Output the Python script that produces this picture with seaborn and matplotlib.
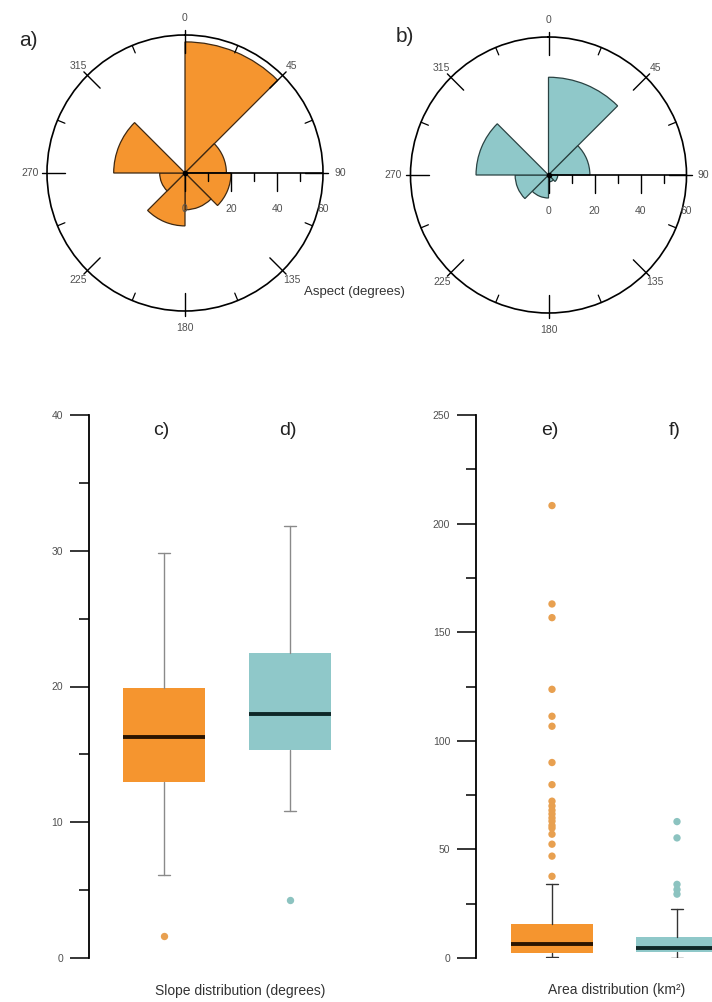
import numpy as np
import pandas as pd
import matplotlib
matplotlib.use("Agg")
import matplotlib.pyplot as plt
import seaborn as sns

# ---- aspect roses (8 sectors of 45 degrees, clockwise from north) ----
sector_start_deg = [0, 45, 90, 135, 180, 225, 270, 315]
aspect_a = [57, 18, 20, 16, 23, 11, 31, 0]
aspect_b = [42.5, 18, 4, 3, 10, 14.5, 31.5, 0]
rose_radial_ticks = [0, 20, 40, 60]
compass_deg = [0, 45, 90, 135, 180, 225, 270, 315]
compass_labels = ["0", "45", "90", "135", "180", "225", "270", "315"]

# ---- slope distribution (degrees) ----
slope_groups = ["c)", "d)"]
slope_q1 = [13.0, 15.3]
slope_median = [16.25, 17.95]
slope_q3 = [19.9, 22.45]
slope_whislo = [6.1, 10.8]
slope_whishi = [29.85, 31.85]
slope_outliers = [[1.6], [4.3]]
slope_ticks = [0, 10, 20, 30, 40]

# ---- area distribution (km2) ----
area_groups = ["e)", "f)"]
area_q1 = [2.5, 2.6]
area_median = [6.3, 4.5]
area_q3 = [15.6, 9.8]
area_whislo = [0.6, 0.0]
area_whishi = [33.9, 22.4]
area_outliers = [
    [208.3, 163.0, 156.7, 123.7, 111.3, 106.7, 90.0, 79.8, 72.2, 70.0,
     68.0, 66.3, 64.5, 63.0, 61.0, 59.8, 57.0, 52.4, 46.9, 37.6],
    [62.8, 55.3, 33.9, 31.5, 29.4],
]
area_ticks = [0, 50, 100, 150, 200, 250]

ORANGE = "#F5952F"
TEAL = "#8FC8C9"
ORANGE_DOT = "#E8A050"
TEAL_DOT = "#8CC3C0"
MED_DARK = ["#2a1400", "#0f2828"]
LABEL_GREY = "#505050"

sns.set_theme(style="white")
plt.rcParams["font.family"] = ["Liberation Sans", "DejaVu Sans"]

W, H = 712, 1002
fig = plt.figure(figsize=(W / 100, H / 100), dpi=100)


def px_axes(left, top, width, height, **kw):
    return fig.add_axes([left / W, 1 - (top + height) / H, width / W, height / H], **kw)


# ------------------------------------------------------------------ roses
R_PX = 138.0
RMAX = 60.0
U = RMAX / R_PX  # data units per pixel


def below_axis(r, d_px):
    """Polar position of a point d_px pixels below the east axis at radius r."""
    d = d_px * U
    return np.pi / 2 + np.arctan2(d, r), np.hypot(r, d)


def draw_rose(ax, counts, color, edge):
    ax.set_theta_zero_location("N")
    ax.set_theta_direction(-1)
    ax.set_ylim(0, RMAX)
    ax.grid(False)
    ax.set_xticks([])
    ax.set_yticks([])
    ax.set_facecolor("white")
    ax.spines["polar"].set_color("black")
    ax.spines["polar"].set_linewidth(1.2)

    theta = np.deg2rad(sector_start_deg)
    ax.bar(theta, counts, width=np.deg2rad(45), align="edge", color=color,
           edgecolor=edge, linewidth=0.9, zorder=2)

    # compass ticks on the outer ring
    for k in range(8):
        t = np.deg2rad(45 * k)
        ax.plot([t, t], [RMAX - 18 * U, RMAX + 5 * U], color="black", lw=1.0,
                clip_on=False, zorder=5)
        tm = np.deg2rad(45 * k + 22.5)
        ax.plot([tm, tm], [RMAX - 8 * U, RMAX], color="black", lw=0.9,
                clip_on=False, zorder=5)

    # compass labels
    for deg, lab in zip(compass_deg, compass_labels):
        rr = (155 if deg % 90 == 0 else 151) * U
        ax.text(np.deg2rad(deg), rr, lab, ha="center", va="center",
                fontsize=7.5, color=LABEL_GREY, clip_on=False)

    # radial scale along the east axis
    ax.plot([np.pi / 2, np.pi / 2], [0, RMAX], color="black", lw=1.2, zorder=5)
    for r in range(0, 60, 10):
        length = 18 if r % 20 == 0 else 8
        t1, r1 = below_axis(r, length)
        ax.plot([np.pi / 2, t1], [r, r1], color="black", lw=1.0, zorder=5)
    for r in rose_radial_ticks:
        t, rr = below_axis(r, 36)
        ax.text(t, rr, str(r), ha="center", va="center", fontsize=7.5,
                color=LABEL_GREY, zorder=6, clip_on=False)
    ax.plot([0], [0], "o", color="black", ms=3, zorder=6)


ax_a = px_axes(185 - R_PX, 173 - R_PX, 2 * R_PX, 2 * R_PX, projection="polar")
draw_rose(ax_a, aspect_a, ORANGE, "#3d2812")
ax_b = px_axes(548.5 - R_PX, 175 - R_PX, 2 * R_PX, 2 * R_PX, projection="polar")
draw_rose(ax_b, aspect_b, TEAL, "#2a4242")

fig.text(28 / W, 1 - 40 / H, "a)", fontsize=15, ha="center", va="center")
fig.text(405 / W, 1 - 36 / H, "b)", fontsize=15, ha="center", va="center")
fig.text(354 / W, 1 - 292 / H, "Aspect (degrees)", fontsize=9.5,
         ha="center", va="center", color="#333333")


# ------------------------------------------------------------------ boxes
def draw_boxes(ax, groups, q1, med, q3, lo, hi, outliers, colors, dot_colors,
               ticks, whisker_color, capw):
    df = pd.DataFrame({
        "group": [g for g, vals in zip(groups, outliers) for _ in vals],
        "value": [v for vals in outliers for v in vals],
    })
    sns.stripplot(data=df, x="group", y="value", hue="group", order=groups,
                  hue_order=groups, palette=dot_colors, jitter=False, size=5.3,
                  linewidth=0, legend=False, ax=ax, zorder=3)
    stats = [dict(q1=a, med=m, q3=b, whislo=l, whishi=h, fliers=[])
             for a, m, b, l, h in zip(q1, med, q3, lo, hi)]
    parts = ax.bxp(stats, positions=range(len(groups)), widths=0.65,
                   patch_artist=True, showfliers=False, capwidths=capw,
                   whiskerprops=dict(color=whisker_color, lw=1.0),
                   capprops=dict(color=whisker_color, lw=1.0),
                   medianprops=dict(lw=2.8))
    for box, c in zip(parts["boxes"], colors):
        box.set_facecolor(c)
        box.set_edgecolor("none")
        box.set_linewidth(0)
    for line, c in zip(parts["medians"], MED_DARK):
        line.set_color(c)
        line.set_zorder(4)
    for i, g in enumerate(groups):
        ax.text(i - 0.02, ticks[-1] * 0.972, g, fontsize=14, ha="center",
                va="center", color="#222222")

    ax.set_ylim(ticks[0], ticks[-1])
    ax.set_yticks(ticks)
    ax.set_yticks([(a + b) / 2 for a, b in zip(ticks[:-1], ticks[1:])], minor=True)
    ax.set_xticks([])
    ax.set_xlabel("")
    ax.set_ylabel("")
    for side in ["top", "right", "bottom"]:
        ax.spines[side].set_visible(False)
    ax.spines["left"].set_color("black")
    ax.spines["left"].set_linewidth(1.3)
    ax.spines["left"].set_bounds(ticks[0], ticks[-1])
    ax.tick_params(axis="y", which="both", left=True, color="black", width=1.1)
    ax.tick_params(axis="y", which="major", length=13.5, labelsize=7.5,
                   labelcolor=LABEL_GREY, pad=5)
    ax.tick_params(axis="y", which="minor", length=7)
    ax.set_facecolor("none")


ax_s = px_axes(89, 415, 271, 543)
draw_boxes(ax_s, slope_groups, slope_q1, slope_median, slope_q3, slope_whislo,
           slope_whishi, slope_outliers, [ORANGE, TEAL], [ORANGE_DOT, TEAL_DOT],
           slope_ticks, "#8a8a8a", 0.09)
ax_s.set_xlim(-0.595, 1.556)

ax_r = px_axes(476, 415, 236, 543)
draw_boxes(ax_r, area_groups, area_q1, area_median, area_q3, area_whislo,
           area_whishi, area_outliers, [ORANGE, TEAL], [ORANGE_DOT, TEAL_DOT],
           area_ticks, "#333333", 0.1)
ax_r.set_xlim(-0.608, 1.28)

fig.text(240 / W, 1 - 991 / H, "Slope distribution (degrees)", fontsize=10,
         ha="center", va="center", color="#333333")
fig.text(617 / W, 1 - 990 / H, "Area distribution (km\u00b2)", fontsize=10,
         ha="center", va="center", color="#333333")

fig.savefig("out.png", dpi=100, facecolor="white")
